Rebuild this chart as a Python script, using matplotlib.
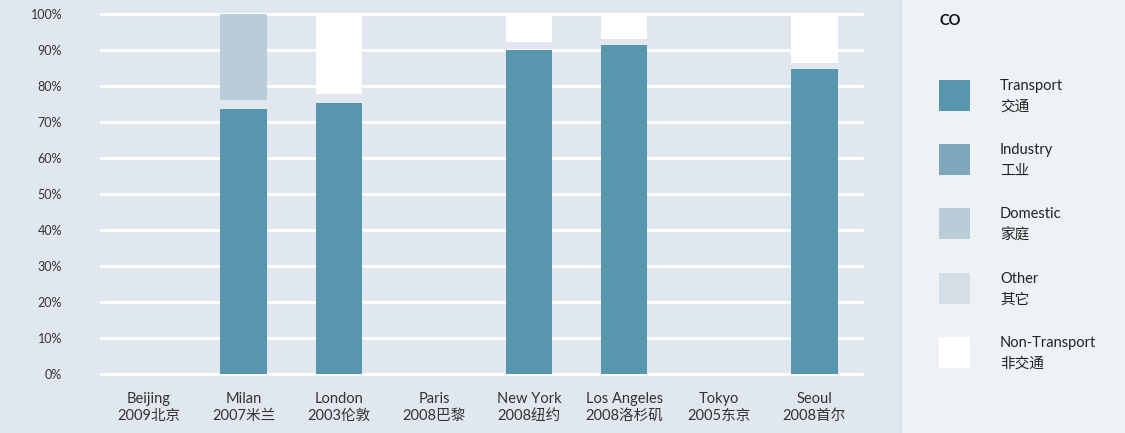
import matplotlib
matplotlib.use("Agg")
import matplotlib.pyplot as plt
from matplotlib.patches import Rectangle

plt.rcParams['font.family'] = ['Lato', 'Noto Sans CJK SC', 'DejaVu Sans']

# Cities (English / year + Chinese name)
cities_en = ["Beijing", "Milan", "London", "Paris", "New York", "Los Angeles", "Tokyo", "Seoul"]
cities_cn = ["2009北京", "2007米兰", "2003伦敦", "2008巴黎", "2008纽约", "2008洛杉矶", "2005东京", "2008首尔"]

# CO share by source (%); upper segments are stacked down from the 100% line
transport     = [0, 73.6, 75.3, 0, 90.0, 91.4, 0, 84.7]
industry      = [0, 0, 0, 0, 0, 0, 0, 0]
domestic      = [0, 23.8, 0, 0, 0, 0, 0, 0]
other         = [0, 0, 0, 0, 0, 0, 0, 0]
non_transport = [0, 0, 22.2, 0, 7.8, 7.0, 0, 13.5]

series_names = [("Transport", "交通"), ("Industry", "工业"), ("Domestic", "家庭"),
                ("Other", "其它"), ("Non-Transport", "非交通")]
colors = ["#5896b0", "#7ca7bc", "#b9ccd8", "#d3dee6", "#ffffff"]
yticks = [0, 10, 20, 30, 40, 50, 60, 70, 80, 90, 100]

W, H = 1125, 433
fig = plt.figure(figsize=(W / 100, H / 100), dpi=100)
fig.patch.set_facecolor("#eef2f5")

# chart panel background
fig.add_artist(Rectangle((0, 0), 900 / W, 1, transform=fig.transFigure,
                         facecolor="#e0e7ee", edgecolor="none", zorder=0))
fig.add_artist(Rectangle((900 / W, 0), 1.5 / W, 1, transform=fig.transFigure,
                         facecolor="#d8e0e8", edgecolor="none", zorder=0))

ax = fig.add_axes([101 / W, 59 / H, 761 / W, 360 / H])
ax.set_facecolor("none")
ax.set_xlim(-0.5, len(cities_en) - 0.5)
ax.set_ylim(0, 100)

for y in yticks:
    ax.axhline(y, color="white", lw=2, zorder=1, clip_on=False)

x = list(range(len(cities_en)))
bw = 0.49


def draw_segments(vals, bottoms, col):
    xs = [xi for xi, v in zip(x, vals) if v > 0]
    hs = [v for v in vals if v > 0]
    bs = [b for b, v in zip(bottoms, vals) if v > 0]
    if xs:
        ax.bar(xs, hs, bottom=bs, width=bw, color=col, linewidth=0, zorder=2)


draw_segments(transport, [0] * len(x), colors[0])
top = [100.0] * len(x)
for vals, col in [(non_transport, colors[4]), (other, colors[3]),
                  (domestic, colors[2]), (industry, colors[1])]:
    bottoms = [t - v for t, v in zip(top, vals)]
    draw_segments(vals, bottoms, col)
    top = bottoms

ax.set_yticks(yticks)
ax.set_yticklabels([f"{v}%" for v in yticks], fontsize=9, color="#333333")
ax.set_xticks(x)
ax.set_xticklabels([f"{e}\n{c}" for e, c in zip(cities_en, cities_cn)],
                   fontsize=10.5, color="#333333", linespacing=1.25)
ax.tick_params(axis="y", length=0, pad=28)
ax.tick_params(axis="x", length=0, pad=13)
for s in ax.spines.values():
    s.set_visible(False)

# legend panel
fig.text(939 / W, 1 - 21 / H, "CO", fontsize=10.5, fontweight="bold",
         color="#111111", va="center", ha="left")
for i, ((en, cn), col) in enumerate(zip(series_names, colors)):
    ytop = 80 + i * 64.2
    fig.add_artist(Rectangle((939 / W, 1 - (ytop + 31) / H), 31 / W, 31 / H,
                             transform=fig.transFigure, facecolor=col,
                             edgecolor="none"))
    fig.text(1000 / W, 1 - (ytop + 6) / H, en, fontsize=10.5, color="#222222",
             va="center", ha="left")
    fig.text(1000 / W, 1 - (ytop + 27) / H, cn, fontsize=10.5, color="#222222",
             va="center", ha="left")

fig.savefig("out.png", dpi=100, facecolor=fig.get_facecolor())
